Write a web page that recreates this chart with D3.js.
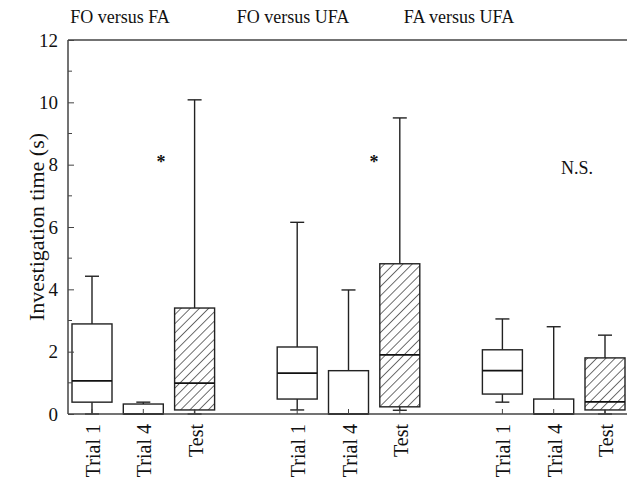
<!DOCTYPE html>
<html>
<head>
<meta charset="utf-8">
<script src="https://cdn.jsdelivr.net/npm/d3@7"></script>
<style>
  body { margin: 0; background: #fff; }
</style>
</head>
<body>
<div class="canvas"></div>
<script>
// data
const groups = ['FO versus FA', 'FO versus UFA', 'FA versus UFA'];
const trials = ['Trial 1', 'Trial 4', 'Test'];
const whiskerLow  = [0,    0,    0,    0.13, 0,    0.12, 0.38, 0,    0   ];
const boxLow      = [0.38, 0,    0.13, 0.48, 0,    0.23, 0.64, 0,    0.13];
const medians     = [1.06, 0,    0.99, 1.31, 0,    1.9,  1.39, 0,    0.39];
const boxHigh     = [2.89, 0.32, 3.4,  2.15, 1.39, 4.82, 2.06, 0.48, 1.8 ];
const whiskerHigh = [4.42, 0.38, 10.08, 6.15, 3.98, 9.5, 3.05, 2.8,  2.53];
const marks = ['*', '*', 'N.S.'];
const markValues = [8.1, 8.1, 7.9];
const yTicks = [0, 2, 4, 6, 8, 10, 12];

const width = 627, height = 484;
const margin = { top: 40, left: 68, bottom: 70 };
const boxW = 40;
const serif = '"Liberation Serif", "DejaVu Serif", serif';

const svg = d3.select('.canvas')
  .append('svg')
  .attr('width', width)
  .attr('height', height);

const defs = svg.append('defs');
const pat = defs.append('pattern')
  .attr('id', 'hatch')
  .attr('patternUnits', 'userSpaceOnUse')
  .attr('width', 6.5)
  .attr('height', 6.5)
  .attr('patternTransform', 'rotate(45)');
pat.append('line')
  .attr('x1', 0).attr('y1', 0)
  .attr('x2', 0).attr('y2', 6.5)
  .attr('stroke', '#222')
  .attr('stroke-width', 1.3);

const y = d3.scaleLinear().domain([0, 12]).range([height - margin.bottom, margin.top]);
// 11 slots, slot 3 and 7 left empty between the groups
const x = d3.scaleLinear().domain([0, 10]).range([92, 605]);
const slot = (g, t) => g * 4 + t;

// boxes
const rows = [];
groups.forEach((g, gi) => trials.forEach((t, ti) => {
  const i = gi * 3 + ti;
  rows.push({ g: gi, t: ti, label: t, lo: whiskerLow[i], q1: boxLow[i], med: medians[i], q3: boxHigh[i], hi: whiskerHigh[i] });
}));

const box = svg.append('g').selectAll('g')
  .data(rows)
  .enter().append('g')
  .attr('transform', d => `translate(${x(slot(d.g, d.t))},0)`);

box.append('line')
  .attr('y1', d => y(d.q3)).attr('y2', d => y(d.hi))
  .attr('stroke', '#222').attr('stroke-width', 1.4);
box.append('line')
  .attr('x1', -7).attr('x2', 7)
  .attr('y1', d => y(d.hi)).attr('y2', d => y(d.hi))
  .attr('stroke', '#222').attr('stroke-width', 1.4);
box.append('line')
  .attr('y1', d => y(d.q1)).attr('y2', d => y(d.lo))
  .attr('stroke', '#222').attr('stroke-width', 1.4);
box.append('line')
  .attr('x1', -7).attr('x2', 7)
  .attr('y1', d => y(d.lo)).attr('y2', d => y(d.lo))
  .attr('stroke', '#222').attr('stroke-width', 1.4);

box.append('rect')
  .attr('x', -boxW / 2)
  .attr('width', boxW)
  .attr('y', d => y(d.q3))
  .attr('height', d => y(d.q1) - y(d.q3))
  .attr('fill', d => d.t === 2 ? 'url(#hatch)' : '#fff')
  .attr('stroke', '#222')
  .attr('stroke-width', 1.4);

box.append('line')
  .attr('x1', -boxW / 2).attr('x2', boxW / 2)
  .attr('y1', d => y(d.med)).attr('y2', d => y(d.med))
  .attr('stroke', '#111').attr('stroke-width', 1.8);

// axes
const yAxis = d3.axisLeft(y).tickValues(yTicks).tickSize(-6).tickPadding(10);
const yg = svg.append('g')
  .attr('transform', `translate(${margin.left},0)`)
  .call(yAxis)
  .attr('font-family', serif)
  .attr('font-size', 19);
yg.select('.domain').remove();
yg.selectAll('text').attr('fill', '#111');
yg.selectAll('line').attr('stroke', '#444');

svg.append('g').selectAll('line')
  .data(d3.range(1, 12, 2))
  .enter().append('line')
  .attr('x1', margin.left).attr('x2', margin.left + 4)
  .attr('y1', d => y(d)).attr('y2', d => y(d))
  .attr('stroke', '#444');

svg.append('line')
  .attr('x1', margin.left).attr('x2', margin.left)
  .attr('y1', y(0)).attr('y2', y(12))
  .attr('stroke', '#444').attr('stroke-width', 1.5);
svg.append('line')
  .attr('x1', margin.left).attr('x2', width)
  .attr('y1', y(0)).attr('y2', y(0))
  .attr('stroke', '#444').attr('stroke-width', 1.5);
svg.append('line')
  .attr('x1', margin.left).attr('x2', width)
  .attr('y1', y(12)).attr('y2', y(12))
  .attr('stroke', '#444').attr('stroke-width', 1.5);

// x ticks (inward) and rotated labels
box.append('line')
  .attr('y1', y(0)).attr('y2', y(0) - 5)
  .attr('stroke', '#444');
box.append('text')
  .attr('transform', `translate(8,${y(0) + 10}) rotate(-90)`)
  .attr('text-anchor', 'end')
  .attr('font-family', serif)
  .attr('font-size', 20)
  .attr('fill', '#111')
  .text(d => d.label);

// y label
svg.append('text')
  .attr('transform', `translate(44,${(y(0) + y(12)) / 2}) rotate(-90)`)
  .attr('text-anchor', 'middle')
  .attr('font-family', serif)
  .attr('font-size', 22)
  .attr('fill', '#111')
  .text('Investigation time (s)');

// group titles
const titleX = [120, 293, 459];
svg.append('g').selectAll('text')
  .data(groups)
  .enter().append('text')
  .attr('x', (d, i) => titleX[i])
  .attr('y', 23)
  .attr('text-anchor', 'middle')
  .attr('font-family', serif)
  .attr('font-size', 18)
  .attr('fill', '#111')
  .text(d => d);

// significance marks
const markX = [161, 374, 577];
svg.append('g').selectAll('text')
  .data(marks)
  .enter().append('text')
  .attr('x', (d, i) => markX[i])
  .attr('y', (d, i) => y(markValues[i]) + 6)
  .attr('text-anchor', 'middle')
  .attr('font-family', serif)
  .attr('font-size', d => d === '*' ? 18 : 18)
  .attr('font-weight', d => d === '*' ? 'bold' : 'normal')
  .attr('fill', '#111')
  .text(d => d);
</script>
</body>
</html>
